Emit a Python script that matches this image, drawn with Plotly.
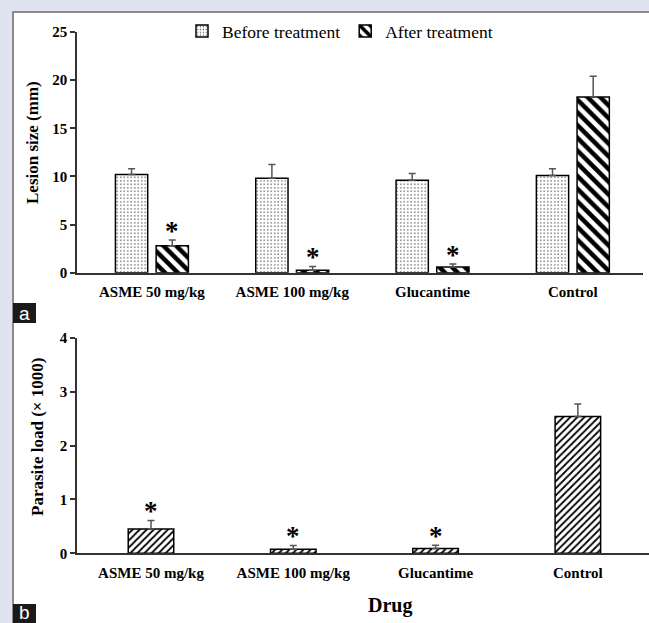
import plotly.graph_objects as go

# ---- data ----
drugs = ["ASME 50 mg/kg", "ASME 100 mg/kg", "Glucantime", "Control"]
lesion_before = [10.2, 9.8, 9.6, 10.1]
lesion_before_err = [0.6, 1.45, 0.7, 0.7]
lesion_after = [2.8, 0.25, 0.6, 18.25]
lesion_after_err = [0.6, 0.4, 0.3, 2.15]
lesion_sig = [True, True, True, False]

parasite_load = [0.45, 0.075, 0.09, 2.54]
parasite_err = [0.16, 0.07, 0.06, 0.23]
parasite_sig = [True, True, True, False]

ya_ticks = [0, 5, 10, 15, 20, 25]
yb_ticks = [0, 1, 2, 3, 4]

W, H = 649, 623
def px(x):
    return x / W
def py(y):
    return 1 - y / H

SERIF = "Liberation Serif"
idx = list(range(len(drugs)))

fig = go.Figure()

bw_a = 0.23
off_before = -0.26
off_after = 0.03
err_style = dict(type="data", symmetric=False, color="#555555", thickness=1.5, width=3.5)

fig.add_trace(go.Bar(
    x=idx, y=lesion_before, name="Before treatment", width=bw_a, offset=off_before,
    marker=dict(color="white", line=dict(color="black", width=1.5),
                pattern=dict(shape=".", fgcolor="#444444", bgcolor="white", size=3.5, solidity=0.15)),
    error_y=dict(array=lesion_before_err, arrayminus=[0] * 4, **err_style),
    xaxis="x", yaxis="y", showlegend=True))
fig.add_trace(go.Bar(
    x=idx, y=lesion_after, name="After treatment", width=bw_a, offset=off_after,
    marker=dict(color="white", line=dict(color="black", width=1.5),
                pattern=dict(shape="\\", fgcolor="black", bgcolor="white", size=9, solidity=0.5)),
    error_y=dict(array=lesion_after_err, arrayminus=[0] * 4, **err_style),
    xaxis="x", yaxis="y", showlegend=True))

bw_b = 0.32
fig.add_trace(go.Bar(
    x=idx, y=parasite_load, name="Parasite load", width=bw_b,
    marker=dict(color="white", line=dict(color="black", width=1.5),
                pattern=dict(shape="/", fgcolor="black", bgcolor="white", size=5, solidity=0.35)),
    error_y=dict(array=parasite_err, arrayminus=[0] * 4, **err_style),
    xaxis="x2", yaxis="y2", showlegend=False))

star_font = dict(family=SERIF, size=27, color="black", weight="bold")
annotations = []
for i in idx:
    if lesion_sig[i]:
        annotations.append(dict(x=i + off_after + bw_a / 2, y=lesion_after[i] + lesion_after_err[i],
                                xref="x", yref="y", text="*", showarrow=False, yanchor="bottom",
                                xanchor="center", yshift=-8, font=star_font))
    if parasite_sig[i]:
        annotations.append(dict(x=i, y=parasite_load[i] + parasite_err[i],
                                xref="x2", yref="y2", text="*", showarrow=False, yanchor="bottom",
                                xanchor="center", yshift=-8, font=star_font))

title_font = dict(family=SERIF, size=17, color="black", weight="bold")
annotations.append(dict(x=px(33), y=py(143), xref="paper", yref="paper", text="Lesion size (mm)",
                        textangle=-90, showarrow=False, xanchor="center", yanchor="middle",
                        font=title_font))
annotations.append(dict(x=px(37), y=py(437), xref="paper", yref="paper", text="Parasite load (× 1000)",
                        textangle=-90, showarrow=False, xanchor="center", yanchor="middle",
                        font=title_font))
annotations.append(dict(x=px(390), y=py(605), xref="paper", yref="paper", text="Drug",
                        showarrow=False, xanchor="center", yanchor="middle",
                        font=dict(family=SERIF, size=20, color="black", weight="bold")))
# panel labels
annotations.append(dict(x=px(24.5), y=py(313), xref="paper", yref="paper", text="a", showarrow=False,
                        xanchor="center", yanchor="middle",
                        font=dict(family="Liberation Sans", size=19, color="white")))
annotations.append(dict(x=px(24.5), y=py(612), xref="paper", yref="paper", text="b", showarrow=False,
                        xanchor="center", yanchor="middle",
                        font=dict(family="Liberation Sans", size=19, color="white")))

shapes = [
    dict(type="rect", xref="paper", yref="paper", x0=px(13), x1=px(W + 10), y0=py(H + 10), y1=py(12),
         fillcolor="white", line=dict(color="#8a8a8a", width=2), layer="below"),
    dict(type="rect", xref="paper", yref="paper", x0=px(13), x1=px(36), y0=py(323), y1=py(303),
         fillcolor="#1a1a1a", line=dict(width=0), layer="below"),
    dict(type="rect", xref="paper", yref="paper", x0=px(13), x1=px(36), y0=py(H + 5), y1=py(604),
         fillcolor="#1a1a1a", line=dict(width=0), layer="below"),
]

tickfont = dict(family=SERIF, size=15, color="black", weight="bold")
xcommon = dict(tickmode="array", tickvals=idx, ticktext=drugs, showgrid=False, zeroline=False,
               showline=True, linecolor="#333333", linewidth=1.5, ticks="", tickfont=tickfont,
               ticklabelstandoff=5, automargin=False, fixedrange=True)
ycommon = dict(tickmode="array", showgrid=False, zeroline=False, showline=True, linecolor="#333333",
               linewidth=1.5, ticks="outside", ticklen=5, tickcolor="#333333", tickwidth=1.5,
               tickfont=tickfont, automargin=False, fixedrange=True)

fig.update_layout(
    template="none",
    width=W, height=H, margin=dict(l=0, r=0, t=0, b=0, pad=0), autosize=False,
    paper_bgcolor="#dfe3f0", plot_bgcolor="rgba(0,0,0,0)",
    barmode="overlay",
    xaxis=dict(domain=[px(77), px(643)], range=[-0.534, 3.5], anchor="y", **xcommon),
    yaxis=dict(domain=[py(272.7), py(32)], range=[0, 25], tickvals=ya_ticks, anchor="x", **ycommon),
    xaxis2=dict(domain=[px(77), px(649)], range=[-0.52, 3.5], anchor="y2", **xcommon),
    yaxis2=dict(domain=[py(553.3), py(337.7)], range=[0, 4], tickvals=yb_ticks, anchor="x2", **ycommon),
    legend=dict(orientation="h", x=px(182), xanchor="left", y=py(31), yanchor="middle",
                bgcolor="rgba(0,0,0,0)", borderwidth=0, font=dict(family=SERIF, size=17.5, color="black"),
                itemwidth=30, tracegroupgap=0),
    annotations=annotations, shapes=shapes,
)

fig.write_html("out.html", config={"displayModeBar": False},
               post_script="document.body.style.margin='0';document.body.style.overflow='hidden';")
